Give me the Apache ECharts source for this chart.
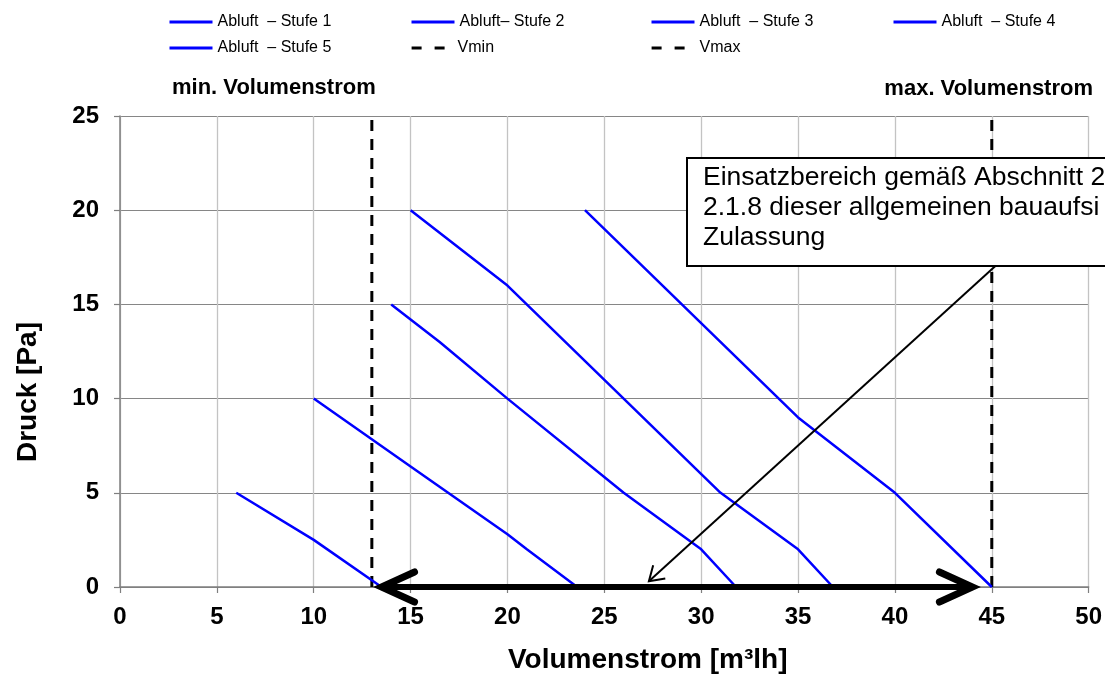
<!DOCTYPE html>
<html>
<head>
<meta charset="utf-8">
<script src="https://cdn.jsdelivr.net/npm/echarts@6/dist/echarts.min.js"></script>
<style>
html, body { margin: 0; padding: 0; background: #fff; }
#chart { width: 1105px; height: 676px; }
</style>
</head>
<body>
<div id="chart"></div>
<script>
var FONT = '"Liberation Sans", Arial, sans-serif';

// Volumenstrom [m3/h] vs Druck [Pa]
var stufe1 = [[6, 5], [10, 2.5], [13.5, 0]];
var stufe2 = [[10, 10], [15, 6.4], [20, 2.8], [21, 2], [23.6, 0]];
var stufe3 = [[14, 15], [16.5, 13], [20, 10], [26, 5], [30, 2], [31.8, 0]];
var stufe4 = [[15, 20], [20, 16], [31, 5], [35, 2], [36.8, 0]];
var stufe5 = [[24, 20], [35, 9], [40, 5], [45, 0]];
var vmin = [[13, 0], [13, 25]];
var vmax = [[45, 0], [45, 25]];

// Einsatzbereich arrow and pointer from the note box
var rangeArrow = [[13.5, 0, 44, 0]];
var pointer = [[45.2, 17.05, 27.3, 0.3]];

var names = ['Abluft  \u2013 Stufe 1', 'Abluft\u2013 Stufe 2', 'Abluft  \u2013 Stufe 3',
  'Abluft  \u2013 Stufe 4', 'Abluft  \u2013 Stufe 5', 'Vmin', 'Vmax'];
var noteLines = ['Einsatzbereich gem\u00e4\u00df Abschnitt 2', '2.1.8 dieser allgemeinen bauaufsi', 'Zulassung'];

function head(tip, from, back, half) {
  var dx = from[0] - tip[0], dy = from[1] - tip[1];
  var len = Math.sqrt(dx * dx + dy * dy);
  var ux = dx / len, uy = dy / len;
  var px = -uy, py = ux;
  return [
    [tip[0] + ux * back + px * half, tip[1] + uy * back + py * half],
    [tip[0], tip[1]],
    [tip[0] + ux * back - px * half, tip[1] + uy * back - py * half]
  ];
}

function blueLine(name, data) {
  return {
    name: name, type: 'line', data: data, symbol: 'none', showSymbol: false,
    lineStyle: { color: '#0000ff', width: 2.5 }, itemStyle: { color: '#0000ff' },
    z: 3, silent: true
  };
}
function dashLine(name, data) {
  return {
    name: name, type: 'line', data: data, symbol: 'none', showSymbol: false,
    lineStyle: { color: '#000', width: 3, type: [11, 8] }, itemStyle: { color: '#000' },
    z: 2, silent: true
  };
}

// one legend per entry, so every item sits where it does in the original
function legendAt(name, left, top, width, dash) {
  return {
    data: [name], left: left, top: top, padding: 0, itemWidth: width, itemHeight: 14,
    selectedMode: false,
    itemStyle: { opacity: 0 },
    lineStyle: dash ? { type: dash, width: 3.2 } : { width: 3 },
    textStyle: { fontFamily: FONT, fontSize: 16, color: '#000' }
  };
}

var chart = echarts.init(document.getElementById('chart'));
chart.setOption({
  animation: false,
  backgroundColor: '#fff',
  legend: [
    legendAt(names[0], 168, 14, 43),
    legendAt(names[1], 410, 14, 43),
    legendAt(names[2], 650, 14, 43),
    legendAt(names[3], 892, 14, 43),
    legendAt(names[4], 168, 40, 43),
    legendAt(names[5], 410, 40, 41, [10, 13]),
    legendAt(names[6], 650, 40, 43, [10, 13])
  ],
  grid: { left: 120, right: 15, top: 116, bottom: 89 },
  xAxis: {
    type: 'value', min: 0, max: 50, interval: 5,
    axisLine: { show: true, lineStyle: { color: '#7f7f7f', width: 1.5 } },
    axisTick: { show: true, length: 6, lineStyle: { color: '#7f7f7f', width: 1.2 } },
    axisLabel: { fontFamily: FONT, fontSize: 24, fontWeight: 'bold', color: '#000', margin: 18 },
    splitLine: { show: true, lineStyle: { color: '#c3c3c3', width: 1.3 } }
  },
  yAxis: {
    type: 'value', min: 0, max: 25, interval: 5,
    axisLine: { show: true, lineStyle: { color: '#7f7f7f', width: 1.5 } },
    axisTick: { show: true, length: 6, lineStyle: { color: '#7f7f7f', width: 1.2 } },
    axisLabel: { fontFamily: FONT, fontSize: 24, fontWeight: 'bold', color: '#000', margin: 21 },
    splitLine: { show: true, lineStyle: { color: '#868686', width: 1.2 } }
  },
  series: [
    blueLine(names[0], stufe1),
    blueLine(names[1], stufe2),
    blueLine(names[2], stufe3),
    blueLine(names[3], stufe4),
    blueLine(names[4], stufe5),
    dashLine(names[5], vmin),
    dashLine(names[6], vmax),
    {
      type: 'custom', data: rangeArrow, z: 5, silent: true, clip: false,
      encode: { x: [0, 2], y: [1, 3] },
      renderItem: function (params, api) {
        var a = api.coord([api.value(0), api.value(1)]);
        var b = api.coord([api.value(2), api.value(3)]);
        var st = { stroke: '#000', lineWidth: 7, fill: null, lineCap: 'round', lineJoin: 'miter' };
        return {
          type: 'group', children: [
            { type: 'line', shape: { x1: a[0], y1: a[1], x2: b[0], y2: b[1] }, style: { stroke: '#000', lineWidth: 6 } },
            { type: 'polyline', shape: { points: head(a, b, 33, 15) }, style: st },
            { type: 'polyline', shape: { points: head(b, a, 33, 15) }, style: st }
          ]
        };
      }
    },
    {
      type: 'custom', data: pointer, z: 6, silent: true, clip: false,
      encode: { x: [0, 2], y: [1, 3] },
      renderItem: function (params, api) {
        var a = api.coord([api.value(0), api.value(1)]);
        var b = api.coord([api.value(2), api.value(3)]);
        return {
          type: 'group', children: [
            { type: 'line', shape: { x1: a[0], y1: a[1], x2: b[0], y2: b[1] }, style: { stroke: '#000', lineWidth: 2 } },
            { type: 'polyline', shape: { points: head(b, a, 14, 9) }, style: { stroke: '#000', lineWidth: 2, fill: null } }
          ]
        };
      }
    }
  ],
  graphic: [
    {
      type: 'text', x: 172, y: 88, z: 50,
      style: { text: 'min. Volumenstrom', fontFamily: FONT, fontSize: 22, fontWeight: 'bold', fill: '#000', align: 'left', verticalAlign: 'middle' }
    },
    {
      type: 'text', x: 1093, y: 89, z: 50,
      style: { text: 'max. Volumenstrom', fontFamily: FONT, fontSize: 22, fontWeight: 'bold', fill: '#000', align: 'right', verticalAlign: 'middle' }
    },
    {
      type: 'rect', x: 687, y: 158, z: 60,
      shape: { x: 0, y: 0, width: 480, height: 108 },
      style: { fill: '#fff', stroke: '#000', lineWidth: 2 }
    },
    {
      type: 'text', x: 703, y: 163, z: 61,
      style: { text: noteLines.join('\n'), fontFamily: FONT, fontSize: 26.5, lineHeight: 30, fill: '#000', align: 'left', verticalAlign: 'top' }
    },
    {
      type: 'text', x: 28, y: 392, rotation: Math.PI / 2, z: 50,
      style: { text: 'Druck [Pa]', fontFamily: FONT, fontSize: 28, fontWeight: 'bold', fill: '#000', align: 'center', verticalAlign: 'middle' }
    },
    {
      type: 'text', x: 508, y: 660, z: 50,
      style: { text: 'Volumenstrom [m\u00b3lh]', fontFamily: FONT, fontSize: 28, fontWeight: 'bold', fill: '#000', align: 'left', verticalAlign: 'middle' }
    }
  ]
});
</script>
</body>
</html>
